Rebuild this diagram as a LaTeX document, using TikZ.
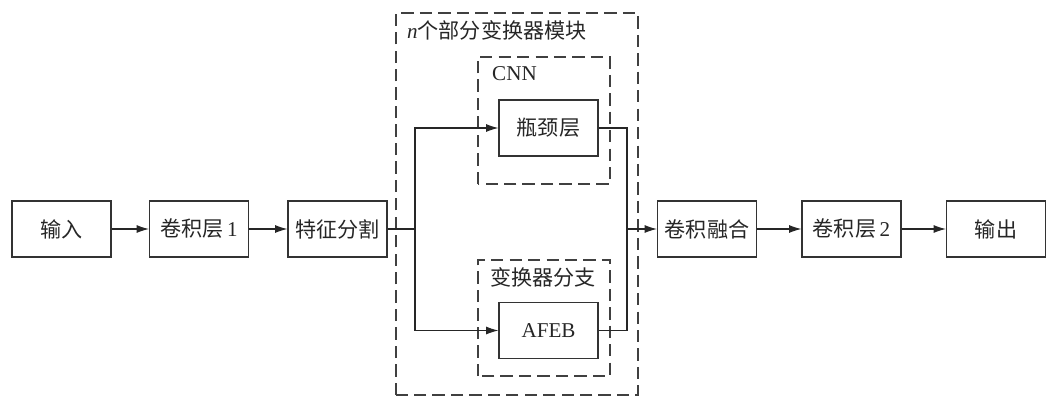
\documentclass[tikz,border=0pt]{standalone}
\usepackage{fontspec}
\setmainfont{Liberation Serif}
\newfontfamily\cjk{Noto Sans CJK SC}
\usetikzlibrary{arrows.meta,positioning}

\begin{document}
\begin{tikzpicture}[
    box/.style={rectangle, draw=black!80, line width=0.6pt, minimum width=1.98cm, minimum height=1.12cm, font=\fontsize{12}{14}\selectfont, text=black!85, align=center},
    grp/.style={draw=black!75, line width=0.6pt, dash pattern=on 7pt off 3.5pt},
    arr/.style={-{Latex[length=7pt,width=4.5pt]}, line width=0.6pt, draw=black!85},
    lnk/.style={line width=0.6pt, draw=black!85},
    lab/.style={font=\fontsize{12}{14}\selectfont, text=black!85}
]
\useasboundingbox (0,0) rectangle (21,8.04);

% Main row
\node[box] (inp) at (1.23, 3.46) {{\cjk 输入}};
\node[box] (conva) at (3.98, 3.46) {{\cjk 卷积层}\,1};
\node[box] (split) at (6.75, 3.46) {{\cjk 特征分割}};
\node[box] (fuse) at (14.14, 3.46) {{\cjk 卷积融合}};
\node[box] (convb) at (17.03, 3.46) {{\cjk 卷积层}\,2};
\node[box] (out) at (19.92, 3.46) {{\cjk 输出}};

% n partial transformer modules
\draw[grp] (7.92, 0.14) rectangle (12.76, 7.78);
\node[lab, anchor=west] (title) at (8.02, 7.44) {\textit{n}{\cjk 个部分变换器模块}};

% CNN branch
\draw[grp] (9.56, 4.36) rectangle (12.2, 6.9);
\node[lab, anchor=west] (cnnlab) at (9.72, 6.56) {CNN};
\node[box] (bneck) at (10.97, 5.48) {{\cjk 瓶颈层}};

% Transformer branch
\draw[grp] (9.56, 0.52) rectangle (12.2, 2.84);
\node[lab] (trlab) at (10.86, 2.5) {{\cjk 变换器分支}};
\node[box] (afeb) at (10.97, 1.43) {AFEB};

% Fork and join points
\coordinate (fork) at (8.3, 3.46);
\coordinate (join) at (12.54, 3.46);

% Arrows
\draw[arr] (inp) -- (conva);
\draw[arr] (conva) -- (split);
\draw[lnk] (split.east) -- (fork);
\draw[arr] (fork) |- (bneck.west);
\draw[arr] (fork) |- (afeb.west);
\draw[lnk] (bneck.east) -| (join);
\draw[lnk] (afeb.east) -| (join);
\draw[arr] (join) -- (fuse.west);
\draw[arr] (fuse) -- (convb);
\draw[arr] (convb) -- (out);

\end{tikzpicture}
\end{document}
